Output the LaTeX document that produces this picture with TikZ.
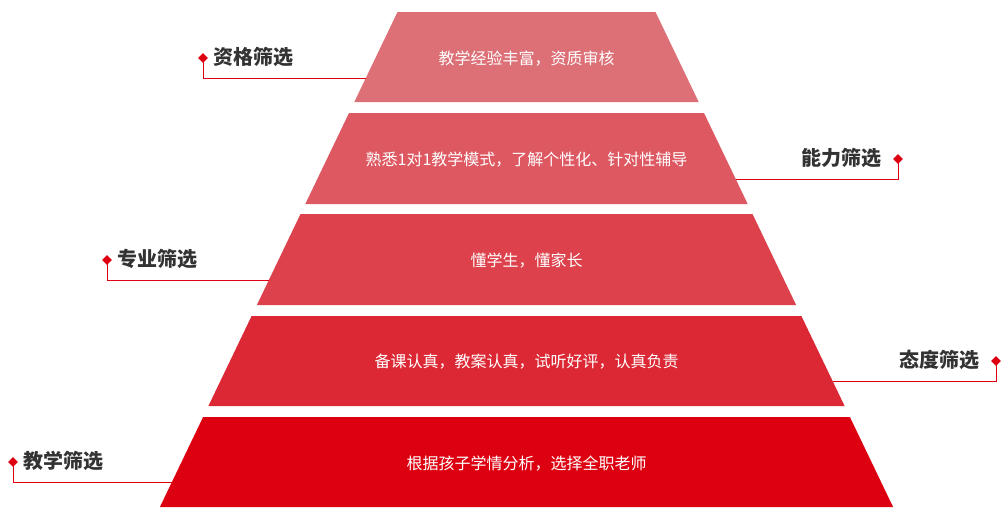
\documentclass[tikz,border=0pt]{standalone}
\usepackage{fontspec}
\setmainfont{Noto Sans CJK SC}
\usepackage{xcolor}
\usetikzlibrary{calc, shapes.geometric, positioning}

\definecolor{tierA}{RGB}{220,112,118}
\definecolor{tierB}{RGB}{222,88,98}
\definecolor{tierC}{RGB}{221,66,76}
\definecolor{tierD}{RGB}{220,40,52}
\definecolor{tierE}{RGB}{221,0,17}
\definecolor{labelgray}{RGB}{51,51,51}

\tikzset{
  tiertext/.style={text=white, font=\fontsize{16}{19}\selectfont},
  filterlabel/.style={text=labelgray, font=\fontsize{20}{23}\selectfont\bfseries, inner sep=0pt},
  marker/.style={diamond, fill=tierE, inner sep=0pt, minimum size=10pt},
  leader/.style={tierE, line width=0.8pt}
}

\begin{document}
\begin{tikzpicture}[x=1pt, y=-1pt]
  \useasboundingbox (0,0) rectangle (1006,512);
  % Pyramid tiers
  \fill[tierA] (397.5,12) -- (655.5,12) -- (698.7,102) -- (354.3,102) -- cycle;
  \node[tiertext] (tier1) at (526.5,59) {教学经验丰富，资质审核};
  \fill[tierB] (349,113) -- (704,113) -- (747.7,204) -- (305.3,204) -- cycle;
  \node[tiertext] (tier2) at (526.5,160) {熟悉1对1教学模式，了解个性化、针对性辅导};
  \fill[tierC] (300.5,214) -- (752.5,214) -- (796.1,305) -- (256.9,305) -- cycle;
  \node[tiertext] (tier3) at (526.5,261) {懂学生，懂家长};
  \fill[tierD] (251.6,316) -- (801.4,316) -- (844.6,406) -- (208.4,406) -- cycle;
  \node[tiertext] (tier4) at (526.5,362) {备课认真，教案认真，试听好评，认真负责};
  \fill[tierE] (203.1,417) -- (849.9,417) -- (893.1,507) -- (159.9,507) -- cycle;
  \node[tiertext] (tier5) at (526.5,464) {根据孩子学情分析，选择全职老师};
  % Edge points for the leaders
  \coordinate (e1) at (365.8,78);
  \coordinate (e2) at (735.7,179);
  \coordinate (e3) at (268.9,280);
  \coordinate (e4) at (832.6,381);
  \coordinate (e5) at (171.9,482);
  % Filter labels
  \node[marker] (d1) at (203,58) {};
  \node[filterlabel, anchor=west] (l1) at (213,57) {资格筛选};
  \node[marker] (d2) at (898,159) {};
  \node[filterlabel, anchor=east] (l2) at (882,158) {能力筛选};
  \node[marker] (d3) at (107,260) {};
  \node[filterlabel, anchor=west] (l3) at (117,259) {专业筛选};
  \node[marker] (d4) at (996,361) {};
  \node[filterlabel, anchor=east] (l4) at (980,360) {态度筛选};
  \node[marker] (d5) at (13,462) {};
  \node[filterlabel, anchor=west] (l5) at (23,461) {教学筛选};
  % Leaders
  \draw[leader] (d1.center) |- (e1);
  \draw[leader] (d2.center) |- (e2);
  \draw[leader] (d3.center) |- (e3);
  \draw[leader] (d4.center) |- (e4);
  \draw[leader] (d5.center) |- (e5);
\end{tikzpicture}
\end{document}
